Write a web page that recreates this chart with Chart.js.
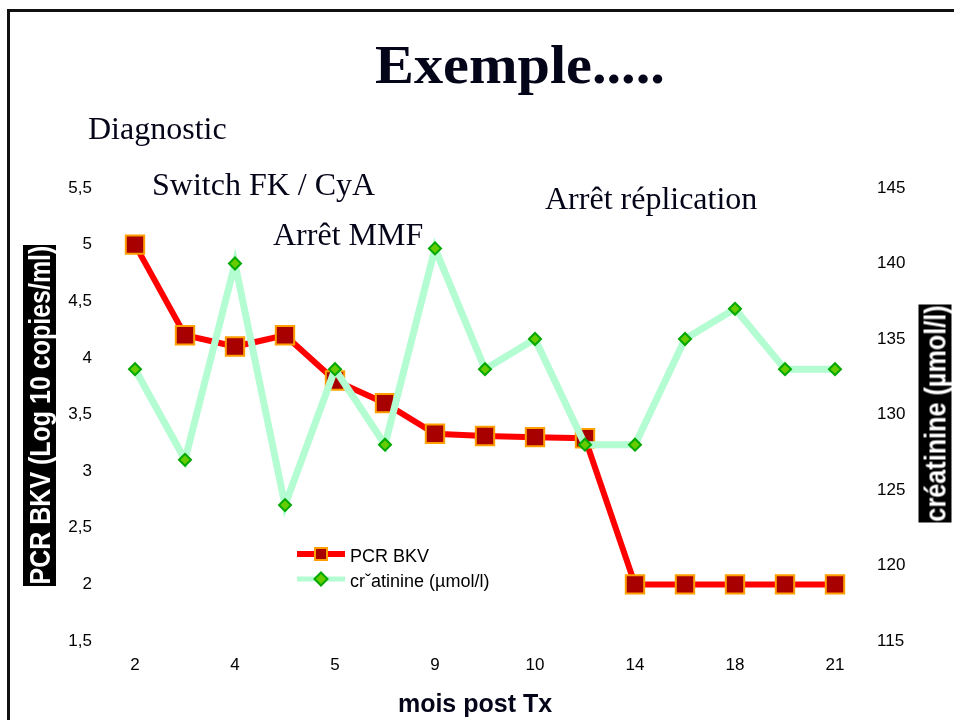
<!DOCTYPE html>
<html lang="fr">
<head>
  <meta charset="UTF-8">
  <title>Exemple PCR BKV / créatinine</title>
  <script src="https://cdn.jsdelivr.net/npm/chart.js"></script>
  <style>
    body { margin: 0; background: #fff; width: 954px; height: 720px; overflow: hidden; position: relative; }
    #frame { position: absolute; left: 7px; top: 9px; right: 0; bottom: 0; border-top: 3px solid #111; border-left: 3px solid #111; }
    #chart { position: absolute; left: 0; top: 0; }
    .note { position: absolute; font-family: "Liberation Serif", "Times New Roman", serif; font-size: 32px; line-height: 1; color: #05051a; white-space: nowrap; }
    #title { font-weight: bold; font-size: 55px; left: 375px; top: 37px; transform: scaleX(1.06); transform-origin: left center; }
    #xTitle { position: absolute; left: 375px; width: 200px; top: 691px; text-align: center; font-family: "Liberation Sans", Arial, sans-serif;
              font-weight: bold; font-size: 25px; line-height: 1; color: #05051a; white-space: nowrap; }
    .axisbox { position: absolute; background: #000; color: #fff; font-family: "Liberation Sans", Arial, sans-serif; font-weight: bold;
               font-size: 30px; line-height: 33px; height: 33px; white-space: nowrap; overflow: hidden;
               transform: rotate(-90deg); }
    .axisbox span { position: absolute; left: 50%; top: 0; transform-origin: center; }
  </style>
</head>
<body>
  <div id="frame"></div>
  <canvas id="chart" width="954" height="720"></canvas>
  <div class="note" id="title">Exemple.....</div>
  <div class="note" style="left:88px; top:112px;">Diagnostic</div>
  <div class="note" style="left:152px; top:168px;">Switch FK / CyA</div>
  <div class="note" style="left:273px; top:218px;">Arrêt MMF</div>
  <div class="note" style="left:545px; top:182px;">Arrêt réplication</div>
  <div id="xTitle">mois post Tx</div>
  <div class="axisbox" style="width:341px; left:-131px; top:399px;"><span>PCR BKV (Log 10 copies/ml)</span></div>
  <div class="axisbox" style="width:218px; left:826px; top:397px;"><span>créatinine (µmol/l)</span></div>

  <script>
    // months post transplant (only every other one was labelled)
    const months = ['2', '', '4', '', '5', '', '9', '', '10', '', '14', '', '18', '', '21'];
    const pcrBkv = [5.0, 4.2, 4.1, 4.2, 3.8, 3.6, 3.33, 3.31, 3.3, 3.29, 2, 2, 2, 2, 2];
    const creatinine = [133, 127, 140, 124, 133, 128, 141, 133, 135, 128, 128, 135, 137, 133, 133];
    const leftRange = [1.5, 5.5];
    const rightRange = [115, 145];

    // squeeze the rotated axis titles into their black boxes
    document.querySelectorAll('.axisbox').forEach(box => {
      const span = box.querySelector('span');
      const k = Math.min(1, (box.clientWidth - 2) / span.offsetWidth);
      span.style.transform = `translateX(-50%) scaleX(${k})`;
    });

    const comma = v => String(v).replace('.', ',');

    const legendPlugin = {
      id: 'inlineLegend',
      afterDraw(chart) {
        const ctx = chart.ctx;
        chart.data.datasets.forEach((ds, i) => {
          const y = 554 + i * 25;
          ctx.save();
          ctx.strokeStyle = ds.borderColor;
          ctx.lineWidth = i === 0 ? 6 : 5;
          ctx.beginPath();
          ctx.moveTo(297, y);
          ctx.lineTo(345, y);
          ctx.stroke();
          ctx.fillStyle = ds.pointBackgroundColor;
          ctx.strokeStyle = ds.pointBorderColor;
          ctx.lineWidth = 2;
          ctx.beginPath();
          if (ds.pointStyle === 'rect') {
            ctx.rect(321 - 6, y - 6, 12, 12);
          } else {
            ctx.moveTo(321 - 6.5, y); ctx.lineTo(321, y - 6.5);
            ctx.lineTo(321 + 6.5, y); ctx.lineTo(321, y + 6.5);
            ctx.closePath();
          }
          ctx.fill();
          ctx.stroke();
          ctx.fillStyle = '#000';
          ctx.font = '18px "Liberation Sans", Arial, sans-serif';
          ctx.textBaseline = 'alphabetic';
          ctx.fillText(ds.label, 350, y + 8);
          ctx.restore();
        });
      }
    };

    const tickFont = { family: '"Liberation Sans", Arial, sans-serif', size: 17 };

    new Chart(document.getElementById('chart'), {
      type: 'line',
      data: {
        labels: months,
        datasets: [{
          label: 'PCR BKV',
          data: pcrBkv,
          yAxisID: 'y',
          borderColor: '#ff0000',
          borderWidth: 6,
          pointStyle: 'rect',
          pointRadius: 13,
          pointBackgroundColor: '#a80000',
          pointBorderColor: '#ffa000',
          pointBorderWidth: 2,
          tension: 0,
          order: 1
        }, {
          label: 'crˇatinine (µmol/l)',
          data: creatinine,
          yAxisID: 'y1',
          borderColor: '#b4fcd2',
          borderWidth: 7,
          pointStyle: 'rectRot',
          pointRadius: 6,
          pointBackgroundColor: '#66cc00',
          pointBorderColor: '#00a800',
          pointBorderWidth: 2,
          tension: 0,
          order: 0
        }]
      },
      options: {
        responsive: false,
        animation: false,
        layout: { padding: { top: 188, left: 0, right: 0, bottom: 0 } },
        plugins: { legend: { display: false }, tooltip: { enabled: false } },
        scales: {
          x: {
            offset: true,
            grid: { display: false, drawTicks: false },
            border: { display: false },
            ticks: { autoSkip: false, maxRotation: 0, padding: 14, color: '#000', font: tickFont },
            afterFit: s => { s.height = 79; }
          },
          y: {
            position: 'left',
            min: leftRange[0], max: leftRange[1],
            grid: { display: false, drawTicks: false },
            border: { display: false },
            ticks: { stepSize: 0.5, padding: 18, color: '#000', font: tickFont, callback: v => comma(v) },
            afterFit: s => { s.width = 110; }
          },
          y1: {
            position: 'right',
            min: rightRange[0], max: rightRange[1],
            grid: { display: false, drawTicks: false },
            border: { display: false },
            ticks: { stepSize: 5, padding: 17, color: '#000', font: tickFont },
            afterFit: s => { s.width = 94; }
          }
        }
      },
      plugins: [legendPlugin]
    });
  </script>
</body>
</html>
